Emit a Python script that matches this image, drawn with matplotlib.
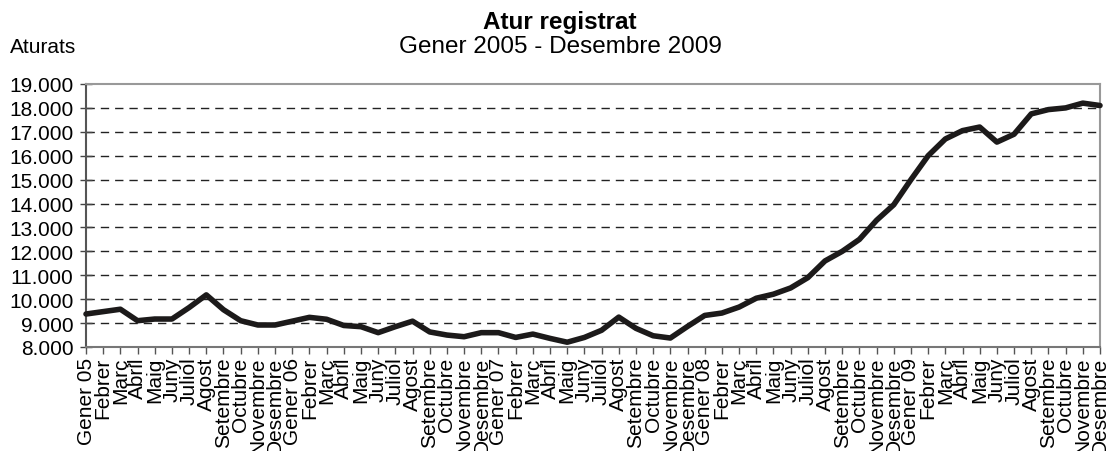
import matplotlib

matplotlib.use("Agg")
import matplotlib.pyplot as plt
from matplotlib.ticker import FuncFormatter

plt.rcParams["font.family"] = ["Liberation Sans", "DejaVu Sans"]
plt.rcParams["lines.scale_dashes"] = False

# Monthly registered unemployment, Jan 2005 - Dec 2009
month_names = ["Gener", "Febrer", "Març", "Abril", "Maig", "Juny", "Juliol",
               "Agost", "Setembre", "Octubre", "Novembre", "Desembre"]
years = ["05", "06", "07", "08", "09"]
values = [
    9380, 9480, 9580, 9100, 9170, 9170, 9650, 10180, 9560, 9100, 8920, 8920,   # 2005
    9080, 9240, 9160, 8900, 8850, 8600, 8850, 9080, 8630, 8500, 8430, 8600,    # 2006
    8600, 8400, 8540, 8360, 8200, 8400, 8700, 9250, 8780, 8470, 8375, 8860,    # 2007
    9320, 9420, 9670, 10040, 10210, 10470, 10900, 11600, 12000, 12500, 13300, 13950,  # 2008
    15000, 16000, 16700, 17050, 17200, 16570, 16900, 17750, 17930, 18000, 18200, 18100,  # 2009
]
labels = []
for y in years:
    for i, m in enumerate(month_names):
        labels.append(f"{m} {y}" if i == 0 else m)

yticks = list(range(8000, 19001, 1000))

fig = plt.figure(figsize=(11.06, 4.52), dpi=100)
ax = fig.add_axes([86 / 1106, 1 - 348 / 452, (1100 - 86) / 1106, (348 - 85) / 452])

x = list(range(len(values)))
ax.plot(x, values, color="#1c1a1a", lw=4.0, solid_joinstyle="round",
        solid_capstyle="round", zorder=3, clip_on=False)

for v in yticks[1:-1]:
    ax.axhline(v, color="#222222", lw=1.0, dashes=(6, 4.3), zorder=1)

ax.set_xlim(0, len(values) - 1)
ax.set_ylim(8000, 19000)
ax.set_yticks(yticks)
ax.yaxis.set_major_formatter(FuncFormatter(lambda v, _: f"{int(v):,}".replace(",", ".")))
ax.set_xticks(x)
ax.set_xticklabels(labels, rotation=90, fontsize=15, va="top", ha="center")

ax.tick_params(axis="y", labelsize=15, direction="inout", length=8, width=1.0,
               color="#444444", pad=5)
ax.tick_params(axis="x", direction="out", length=5, width=1.0, color="#555555", pad=2)

ax.spines["left"].set_color("#555555")
ax.spines["left"].set_linewidth(1.5)
ax.spines["bottom"].set_color("#777777")
ax.spines["bottom"].set_linewidth(1.5)
for s in ("top", "right"):
    ax.spines[s].set_color("#999999")
    ax.spines[s].set_linewidth(1.5)

fig.text(560 / 1106, 1 - 22 / 452, "Atur registrat", fontsize=17.5, fontweight="bold",
         ha="center", va="center")
fig.text(560 / 1106, 1 - 47 / 452, "Gener 2005 - Desembre 2009", fontsize=17.5,
         ha="center", va="center")
fig.text(10 / 1106, 1 - 48 / 452, "Aturats", fontsize=15, ha="left", va="center")

fig.savefig("out.png", dpi=100)
